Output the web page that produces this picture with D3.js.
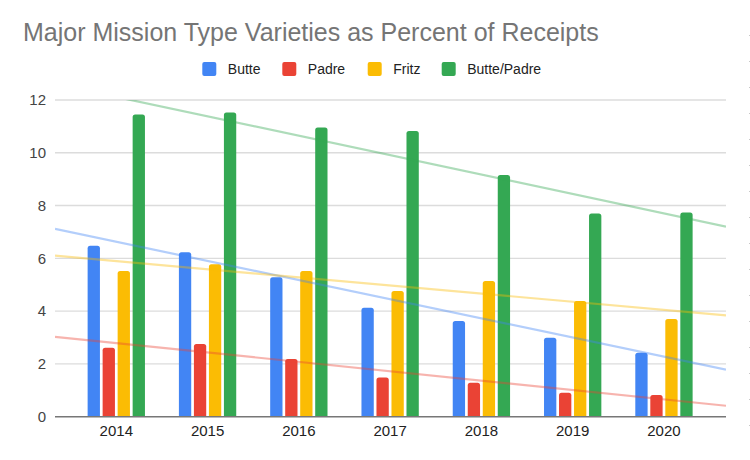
<!DOCTYPE html>
<html><head><meta charset="utf-8">
<script src="https://cdn.jsdelivr.net/npm/d3@7"></script>
<style>body{margin:0;background:#fff}svg{display:block}</style>
</head><body><svg id="c" width="750" height="460"></svg>
<script>
const years = ["2014","2015","2016","2017","2018","2019","2020"];
const seriesNames = ["Butte","Padre","Fritz","Butte/Padre"];
const colors = ["#4285F4","#EA4335","#FBBC04","#34A853"];
const butte = [6.48,6.23,5.28,4.13,3.63,2.99,2.42];
const padre = [2.61,2.75,2.19,1.49,1.29,0.91,0.82];
const fritz = [5.52,5.78,5.52,4.76,5.14,4.38,3.70];
const buttePadre = [11.45,11.53,10.96,10.83,9.16,7.70,7.74];
const yTicks = [0,2,4,6,8,10,12];
const series = [butte,padre,fritz,buttePadre];

const svg = d3.select("#c");
const pLeft = 55, pRight = 726, pTop = 100, pBottom = 416.7;
const font = "'Liberation Sans', Arial, sans-serif";

const y = d3.scaleLinear().domain([0,12]).range([pBottom, pTop]);
const x0 = d3.scaleBand().domain(years).range([70.65,709.6]).paddingInner(0.372).paddingOuter(0.186);
const x1 = d3.scaleBand().domain(seriesNames).range([0,x0.bandwidth()]).paddingInner(0.18);
const xi = d3.scaleLinear().domain([0,years.length-1]).range([x0(years[0])+x0.bandwidth()/2, x0(years[years.length-1])+x0.bandwidth()/2]);

// title
svg.append("text").attr("x",23).attr("y",41).attr("font-family",font).attr("font-size",25)
  .attr("fill","#757575").text("Major Mission Type Varieties as Percent of Receipts");

// legend
const legendX = [202.3,282.3,367.7,441.7];
seriesNames.forEach((s,i)=>{
  const g = svg.append("g").attr("transform",`translate(${legendX[i]},62)`);
  g.append("rect").attr("width",14).attr("height",14).attr("rx",2).attr("fill",colors[i]);
  g.append("text").attr("x",25.5).attr("y",12).attr("font-family",font).attr("font-size",14).attr("fill","#222").text(s);
});

// gridlines
svg.append("g").selectAll("line").data(yTicks.filter(d=>d>0)).join("line")
  .attr("x1",pLeft).attr("x2",pRight).attr("y1",d=>y(d)).attr("y2",d=>y(d))
  .attr("stroke","#dcdcdc").attr("stroke-width",1.4);

// y axis labels
const yAxis = d3.axisLeft(y).tickValues(yTicks).tickSize(0).tickPadding(0);
const ya = svg.append("g").attr("transform",`translate(46,0)`).call(yAxis);
ya.select(".domain").remove();
ya.selectAll("text").attr("font-family",font).attr("font-size",15).attr("fill","#444");

// bars
const barPath = (x,w,y0,y1,r)=>{
  r = Math.min(r, (y1-y0), w/2);
  return `M${x},${y1}V${y0+r}Q${x},${y0} ${x+r},${y0}H${x+w-r}Q${x+w},${y0} ${x+w},${y0+r}V${y1}Z`;
};
years.forEach((yr,j)=>{
  series.forEach((arr,i)=>{
    const bx = x0(yr)+x1(seriesNames[i]);
    svg.append("path").attr("d",barPath(bx,x1.bandwidth(),y(arr[j]),y(0),2.5)).attr("fill",colors[i]);
  });
});

// trendlines (linear regression of each series)
svg.append("defs").append("clipPath").attr("id","plot").append("rect")
  .attr("x",pLeft).attr("y",pTop).attr("width",pRight-pLeft).attr("height",pBottom-pTop);
const tg = svg.append("g").attr("clip-path","url(#plot)");
series.forEach((arr,i)=>{
  const xs = arr.map((_,k)=>k);
  const mx = d3.mean(xs), my = d3.mean(arr);
  const slope = d3.sum(xs,(k)=>(k-mx)*(arr[k]-my))/d3.sum(xs,k=>(k-mx)*(k-mx));
  const f = k=>my+slope*(k-mx);
  const ka = xi.invert(pLeft), kb = xi.invert(pRight);
  tg.append("line").attr("x1",pLeft).attr("x2",pRight).attr("y1",y(f(ka))).attr("y2",y(f(kb)))
    .attr("stroke",colors[i]).attr("stroke-width",2.2).attr("stroke-opacity",0.4);
});

// baseline
svg.append("line").attr("x1",pLeft).attr("x2",pRight).attr("y1",y(0)).attr("y2",y(0))
  .attr("stroke","#777").attr("stroke-width",1.5);

// x labels
const xAxis = d3.axisBottom(x0).tickSize(0).tickPadding(0);
const xa = svg.append("g").attr("transform",`translate(0,${pBottom+9})`).call(xAxis);
xa.select(".domain").remove();
xa.selectAll("text").attr("font-family",font).attr("font-size",15).attr("fill","#222").attr("dy","0.71em");

// faint dotted edge at right
svg.append("line").attr("x1",749.5).attr("x2",749.5).attr("y1",35).attr("y2",450)
  .attr("stroke","#c8c8c8").attr("stroke-width",1).attr("stroke-dasharray","1,25");
</script></body></html>
